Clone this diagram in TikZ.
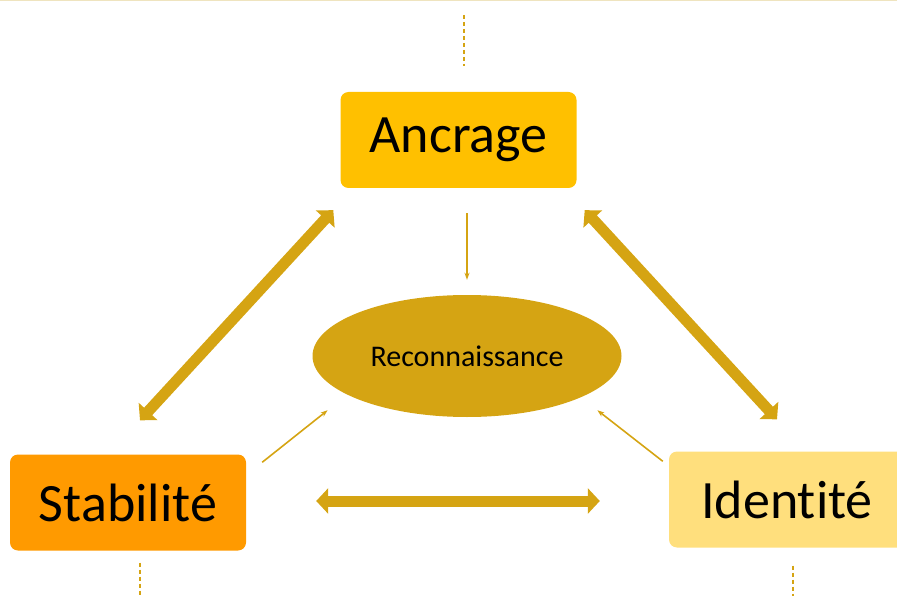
\documentclass[tikz,border=0pt]{standalone}
\usepackage{fontspec}
\setmainfont{Carlito}[Ligatures={NoCommon}]
\usetikzlibrary{arrows.meta,shapes.geometric,calc}
\definecolor{gold}{HTML}{D5A413}
\definecolor{ancfill}{HTML}{FFC000}
\definecolor{stabfill}{HTML}{FF9A00}
\definecolor{idfill}{HTML}{FFDF7D}
\definecolor{topline}{HTML}{EFE4BF}
\begin{document}
\begin{tikzpicture}[x=1pt,y=-1pt,line cap=butt,
	pole/.style={rounded corners=8pt,minimum width=236pt,minimum height=96pt,inner sep=0pt,font=\fontsize{54}{60}\selectfont},
	big/.style={gold,line width=11pt,{Triangle[length=12pt,width=25pt]}-{Triangle[length=12pt,width=25pt]}},
	small/.style={gold,line width=1.6pt,-{Stealth[length=7pt,width=5pt]}},
	guide/.style={gold,line width=1.3pt,dash pattern=on 4pt off 3pt}]
	\useasboundingbox (0,0) rectangle (897,596);
	\draw[topline,line width=2pt] (0,0.5)--(897,0.5);
	% the three poles
	\node[pole,fill=ancfill] (anc) at (458.5,140) {Ancrage};
	\node[pole,fill=stabfill] (stab) at (128,502.5) {Stabilité};
	\node[pole,fill=idfill] (ident) at (787,499.5) {Identité};
	\node[ellipse,fill=gold,minimum width=309pt,minimum height=122pt,inner sep=0pt,font=\fontsize{30}{36}\selectfont] (rec) at (467,356) {Reconnaissance};
	% links between poles
	\draw[big] ($(anc.south west)+(-7,22)$) -- ($(stab.north)+(12,-34)$);
	\draw[big] ($(anc.south east)+(8,22)$) -- ($(ident.north)+(-10,-32)$);
	\draw[big] ($(stab.east)+(70,-1.5)$) -- ($(ident.west)+(-69,1.5)$);
	% towards the centre
	\draw[small] ($(anc.south)+(8.5,25)$) -- ($(rec.north)+(0,-15)$);
	\draw[small] ($(stab.north east)+(16,8)$) -- ($(rec.south west)+(-30,11)$);
	\draw[small] ($(ident.north west)+(-6,10)$) -- ($(rec.south east)+(21,11)$);
	% dashed guides
	\draw[guide] ($(anc.north)+(5.5,-77)$) -- ($(anc.north)+(5.5,-26)$);
	\draw[guide] ($(stab.south)+(12,12)$) -- ($(stab.south)+(12,45)$);
	\draw[guide] ($(ident.south)+(6,18)$) -- ($(ident.south)+(6,50)$);
\end{tikzpicture}
\end{document}
